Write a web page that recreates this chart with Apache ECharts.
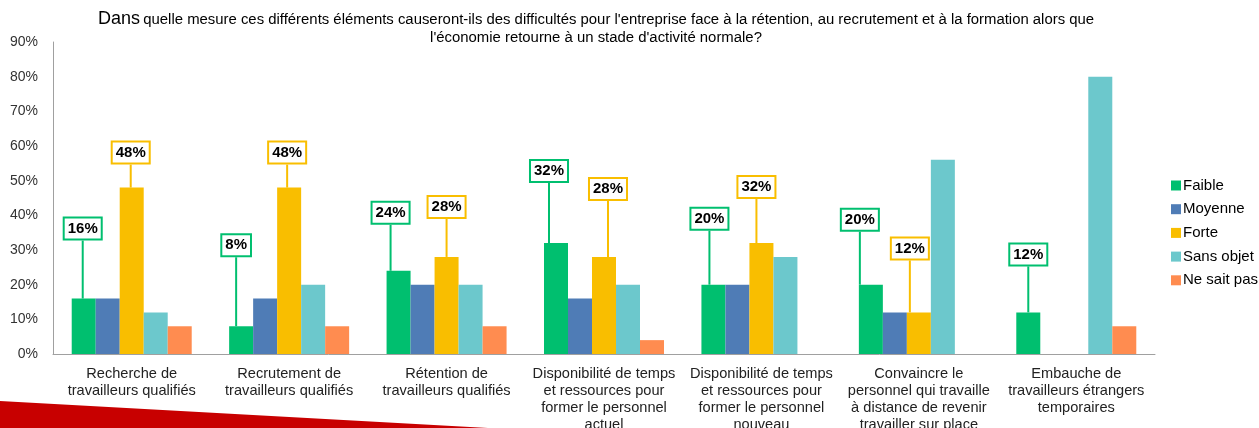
<!DOCTYPE html>
<html>
<head>
<meta charset="utf-8">
<script src="https://cdn.jsdelivr.net/npm/echarts@6/dist/echarts.min.js"></script>
<style>
  html, body { margin: 0; padding: 0; background: #fff; }
  #main { width: 1259px; height: 428px; }
</style>
</head>
<body>
<div id="main"></div>
<script>
// categories (x axis)
var categories = [
  'Recherche de\ntravailleurs qualifiés',
  'Recrutement de\ntravailleurs qualifiés',
  'Rétention de\ntravailleurs qualifiés',
  'Disponibilité de temps\net ressources pour\nformer le personnel\nactuel',
  'Disponibilité de temps\net ressources pour\nformer le personnel\nnouveau',
  'Convaincre le\npersonnel qui travaille\nà distance de revenir\ntravailler sur place',
  'Embauche de\ntravailleurs étrangers\ntemporaires'
];
var seriesNames = ['Faible', 'Moyenne', 'Forte', 'Sans objet', 'Ne sait pas'];
// values in %
var faible    = [16, 8, 24, 32, 20, 20, 12];
var moyenne   = [16, 16, 20, 16, 20, 12, null];
var forte     = [48, 48, 28, 28, 32, 12, null];
var sansObjet = [12, 20, 20, 20, 28, 56, 80];
var neSaitPas = [8, 8, 8, 4, null, null, 8];
var yTicks = [0, 10, 20, 30, 40, 50, 60, 70, 80, 90];

var colors = ['#00bf6f', '#4f7cb6', '#f9be00', '#6cc8cc', '#ff8c50'];

// callout offsets (dx, dy from top centre of bar), layout only
var calloutOffsets = {
  0: [[-1, -70], [-5, -81], [-8, -58], [-7, -72], [-4, -66], [-11, -65], [0, -58]],
  2: [[-1, -35], [-2, -35], [0, -50], [4, -68], [-5, -56], [-9, -64], [0, -60]]
};

var font = "'Liberation Sans', Arial, sans-serif";
var myChart = echarts.init(document.getElementById('main'));

function makeSeries(idx, data) {
  var s = {
    name: seriesNames[idx],
    type: 'bar',
    barWidth: 24,
    barGap: '0%',
    data: data,
    itemStyle: { color: colors[idx] }
  };
  if (calloutOffsets[idx]) {
    s.label = {
      show: true,
      position: 'top',
      formatter: '{c}%',
      fontFamily: font,
      fontSize: 15,
      fontWeight: 'bold',
      color: '#000',
      backgroundColor: '#fff',
      borderColor: colors[idx],
      borderWidth: 2,
      padding: [3, 3, 2, 3]
    };
    s.labelLine = {
      show: true,
      lineStyle: { color: colors[idx], width: 2 }
    };
    s.labelLayout = function (params) {
      var o = calloutOffsets[params.seriesIndex][params.dataIndex];
      var r = params.rect;
      return {
        x: r.x + r.width / 2 + o[0],
        y: r.y + o[1],
        align: 'center',
        verticalAlign: 'middle'
      };
    };
  }
  return s;
}

myChart.setOption({
  animation: false,
  backgroundColor: '#fff',
  textStyle: { fontFamily: font },
  color: colors,
  grid: { left: 53, right: 104, top: 42, bottom: 74, outerBoundsMode: 'none' },
  legend: {
    orient: 'vertical',
    left: 1166,
    top: 173,
    itemWidth: 10,
    itemHeight: 10,
    itemGap: 8.7,
    icon: 'rect',
    textStyle: { fontFamily: font, fontSize: 15, color: '#000', padding: [0, 0, 0, -3] },
    data: seriesNames
  },
  graphic: [
    {
      type: 'text',
      x: 596,
      y: 10,
      style: {
        text: '{a|Dans} {b|quelle mesure ces différents éléments causeront-ils des difficultés pour l\'entreprise face à la rétention, au recrutement et à la formation alors que}\n{b|l\'économie retourne à un stade d\'activité normale?}',
        align: 'center',
        fill: '#000',
        rich: {
          a: { fontFamily: font, fontSize: 18, lineHeight: 19, fill: '#000' },
          b: { fontFamily: font, fontSize: 14.9, lineHeight: 18, fill: '#000' }
        }
      }
    },
    {
      type: 'polygon',
      shape: { points: [[0, 401], [488, 428], [0, 428]] },
      style: { fill: '#c80000' },
      z: -1
    }
  ],
  xAxis: {
    type: 'category',
    data: categories,
    axisTick: { show: false },
    axisLine: { lineStyle: { color: '#a0a0a0', width: 1 } },
    axisLabel: {
      interval: 0,
      margin: 11,
      fontFamily: font,
      fontSize: 14.6,
      lineHeight: 17,
      color: '#222'
    }
  },
  yAxis: {
    type: 'value',
    min: yTicks[0],
    max: yTicks[yTicks.length - 1],
    interval: 10,
    splitLine: { show: false },
    axisTick: { show: false },
    axisLine: { show: true, lineStyle: { color: '#a0a0a0', width: 1 } },
    axisLabel: {
      formatter: '{value}%',
      margin: 15,
      fontFamily: font,
      fontSize: 14,
      color: '#333'
    }
  },
  series: [
    makeSeries(0, faible),
    makeSeries(1, moyenne),
    makeSeries(2, forte),
    makeSeries(3, sansObjet),
    makeSeries(4, neSaitPas)
  ]
});
</script>
</body>
</html>
